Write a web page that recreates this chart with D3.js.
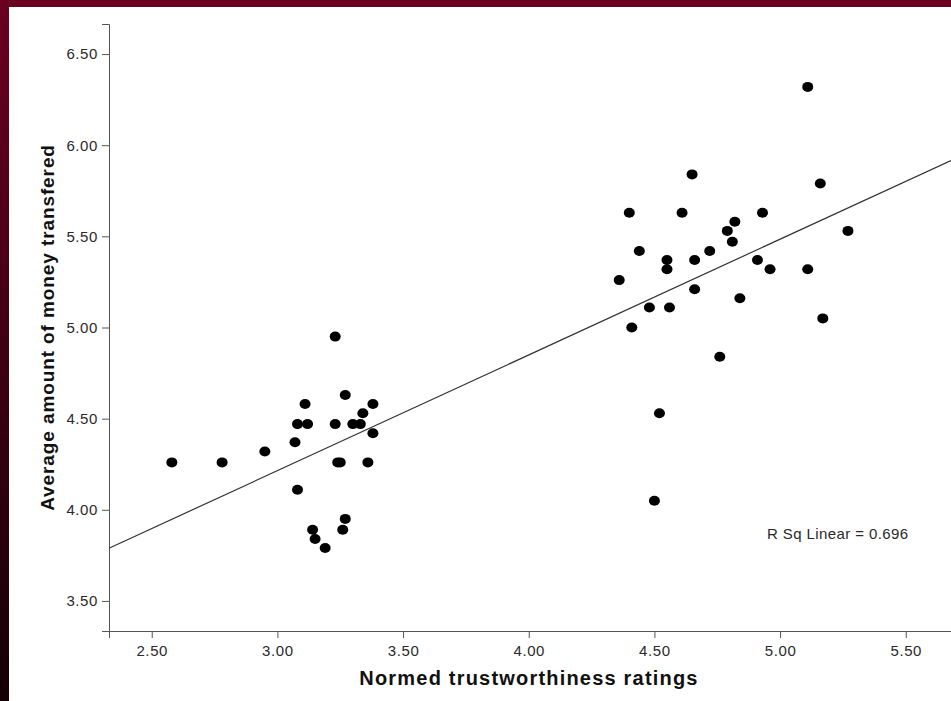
<!DOCTYPE html>
<html>
<head>
<meta charset="utf-8">
<script src="https://cdn.jsdelivr.net/npm/d3@7"></script>
<style>
    body { margin: 0; background: #fff; }
    .tick text { font-family: "Liberation Sans", Arial, sans-serif; font-size: 15px; letter-spacing: 0.6px; fill: #2a2a2a; }
    .axis path, .axis line { stroke: #555; }
    .axis-title { font-family: "Liberation Sans", Arial, sans-serif; font-weight: bold; fill: #111; }
</style>
</head>
<body>
<div id="chart"></div>
<script>

// Normed trustworthiness ratings (x) and average money transfered (y), one entry per face
const trust = [
    2.58, 2.78, 2.95, 3.07, 3.08, 3.08, 3.12, 3.11, 3.14, 3.15, 3.19, 3.23,
    3.24, 3.25, 3.27, 3.26, 3.27, 3.30, 3.33, 3.34, 3.36, 3.38, 3.38, 3.23,
    4.65, 4.40, 4.61, 4.93, 5.16, 4.82, 4.79, 4.81, 4.44, 4.72, 4.55, 4.66,
    4.55, 4.36, 4.91, 4.96, 5.11, 5.27, 4.66, 4.48, 4.56, 4.84, 4.41, 5.17,
    4.76, 5.11, 4.52, 4.50
];
const money = [
    4.26, 4.26, 4.32, 4.37, 4.11, 4.47, 4.47, 4.58, 3.89, 3.84, 3.79, 4.47,
    4.26, 4.26, 4.63, 3.89, 3.95, 4.47, 4.47, 4.53, 4.26, 4.58, 4.42, 4.95,
    5.84, 5.63, 5.63, 5.63, 5.79, 5.58, 5.53, 5.47, 5.42, 5.42, 5.37, 5.37,
    5.32, 5.26, 5.37, 5.32, 5.32, 5.53, 5.21, 5.11, 5.11, 5.16, 5.00, 5.05,
    4.84, 6.32, 4.53, 4.05
];

const xTicks = [2.5, 3.0, 3.5, 4.0, 4.5, 5.0, 5.5];
const yTicks = [3.5, 4.0, 4.5, 5.0, 5.5, 6.0, 6.5];
const xTitle = "Normed trustworthiness ratings";
const yTitle = "Average amount of money transfered";
const rSquareLabel = "R Sq Linear = 0.696";

class ScatterPlot {
    constructor(selector) {
        this.width = 951;
        this.height = 701;
        this.plot = { left: 109, top: 24, right: 951, bottom: 631 };

        this.svg = d3.select(selector).append("svg")
            .attr("width", this.width)
            .attr("height", this.height);

        this.x = d3.scaleLinear().domain([2.33, 5.68]).range([this.plot.left, this.plot.right]);
        this.y = d3.scaleLinear().domain([3.335, 6.665]).range([this.plot.bottom, this.plot.top]);

        this.points = trust.map((t, i) => ({ x: t, y: money[i] }));

        this.drawFrame();
        this.drawAxes();
        this.drawFit();
        this.drawPoints();
    }

    drawFrame() {
        // slide background shows as a thin maroon border top and left
        const grad = this.svg.append("defs").append("linearGradient")
            .attr("id", "frame").attr("x1", 0).attr("y1", 0).attr("x2", 0).attr("y2", 1);
        grad.append("stop").attr("offset", "0%").attr("stop-color", "#6a0022");
        grad.append("stop").attr("offset", "100%").attr("stop-color", "#140005");

        this.svg.append("rect")
            .attr("width", this.width).attr("height", this.height)
            .attr("fill", "url(#frame)");
        this.svg.append("rect")
            .attr("x", 9).attr("y", 7)
            .attr("width", this.width - 9).attr("height", this.height - 7)
            .attr("fill", "#fff");
    }

    drawAxes() {
        const fmt = d3.format(".2f");

        this.svg.append("g")
            .attr("class", "axis")
            .attr("transform", `translate(0,${this.plot.bottom})`)
            .call(d3.axisBottom(this.x).tickValues(xTicks).tickFormat(fmt).tickSizeOuter(0).tickSize(7).tickPadding(7));

        this.svg.append("g")
            .attr("class", "axis")
            .attr("transform", `translate(${this.plot.left},0)`)
            .call(d3.axisLeft(this.y).tickValues(yTicks).tickFormat(fmt).tickSizeOuter(0).tickSize(7).tickPadding(4));

        this.svg.append("text")
            .attr("class", "axis-title")
            .attr("x", (this.plot.left + this.plot.right) / 2 - 1)
            .attr("y", 685)
            .attr("text-anchor", "middle")
            .style("font-size", "20px")
            .style("letter-spacing", "1.2px")
            .text(xTitle);

        this.svg.append("text")
            .attr("class", "axis-title")
            .attr("transform", `translate(54,${(this.plot.top + this.plot.bottom) / 2}) rotate(-90)`)
            .attr("text-anchor", "middle")
            .style("font-size", "19px")
            .style("letter-spacing", "0.9px")
            .text(yTitle);

        this.svg.append("text")
            .attr("x", 767)
            .attr("y", 539)
            .style("font-family", "Liberation Sans, Arial, sans-serif")
            .style("font-size", "15px")
            .style("letter-spacing", "0.4px")
            .attr("fill", "#2a2a2a")
            .text(rSquareLabel);
    }

    drawFit() {
        // least squares line through the points
        const mx = d3.mean(this.points, d => d.x);
        const my = d3.mean(this.points, d => d.y);
        const sxy = d3.sum(this.points, d => (d.x - mx) * (d.y - my));
        const sxx = d3.sum(this.points, d => (d.x - mx) * (d.x - mx));
        const slope = sxy / sxx;
        const intercept = my - slope * mx;
        const [x0, x1] = this.x.domain();

        this.svg.append("line")
            .attr("x1", this.x(x0)).attr("y1", this.y(intercept + slope * x0))
            .attr("x2", this.x(x1)).attr("y2", this.y(intercept + slope * x1))
            .attr("stroke", "#333")
            .attr("stroke-width", 1.2);
    }

    drawPoints() {
        this.svg.append("g")
            .selectAll("ellipse")
            .data(this.points)
            .join("ellipse")
            .attr("cx", d => this.x(d.x))
            .attr("cy", d => this.y(d.y))
            .attr("rx", 5.5)
            .attr("ry", 5)
            .attr("fill", "#000");
    }
}

new ScatterPlot("#chart");
</script>
</body>
</html>
